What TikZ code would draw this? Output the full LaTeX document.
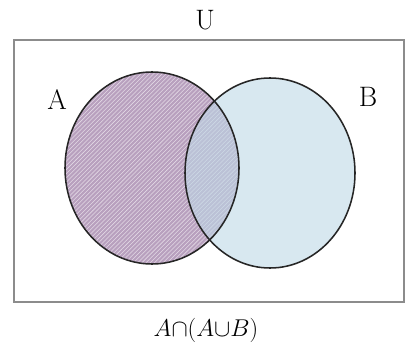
\documentclass[tikz,border=0pt]{standalone}
\usetikzlibrary{patterns}
\definecolor{setAfill}{RGB}{184,160,190}
\definecolor{setBfill}{RGB}{190,216,230}
\definecolor{frame}{RGB}{140,140,140}
\tikzset{
  set label/.style={font=\fontsize{20}{22}\selectfont},
  set A/.style={fill=setAfill},
  set B/.style={fill=setBfill, fill opacity=0.6},
  set border/.style={draw=black!85, line width=1.1pt}
}
\begin{document}
\begin{tikzpicture}[x=0.025cm, y=-0.025cm]
  \useasboundingbox (0,0) rectangle (406,354);
  % universe
  \draw[frame, line width=1.5pt] (14,40) rectangle (404,302);
  \node[set label] (U) at (205,20) {U};

  % the two sets
  \path[set A] (152,168) ellipse [x radius=87, y radius=96];
  \path[pattern=north east lines, pattern color=white!60!setAfill] (152,168) ellipse [x radius=87, y radius=96];
  \path[set B] (270,173) ellipse [x radius=85, y radius=95];
  \path[set border] (152,168) ellipse [x radius=87, y radius=96];
  \path[set border] (270,173) ellipse [x radius=85, y radius=95];

  \node[set label] (A) at (57,100) {A};
  \node[set label] (B) at (368,97) {B};

  % caption
  \node[font=\fontsize{18}{20}\selectfont] (cap) at (206,330) {$A{\cap}(A{\cup}B)$};
\end{tikzpicture}
\end{document}
